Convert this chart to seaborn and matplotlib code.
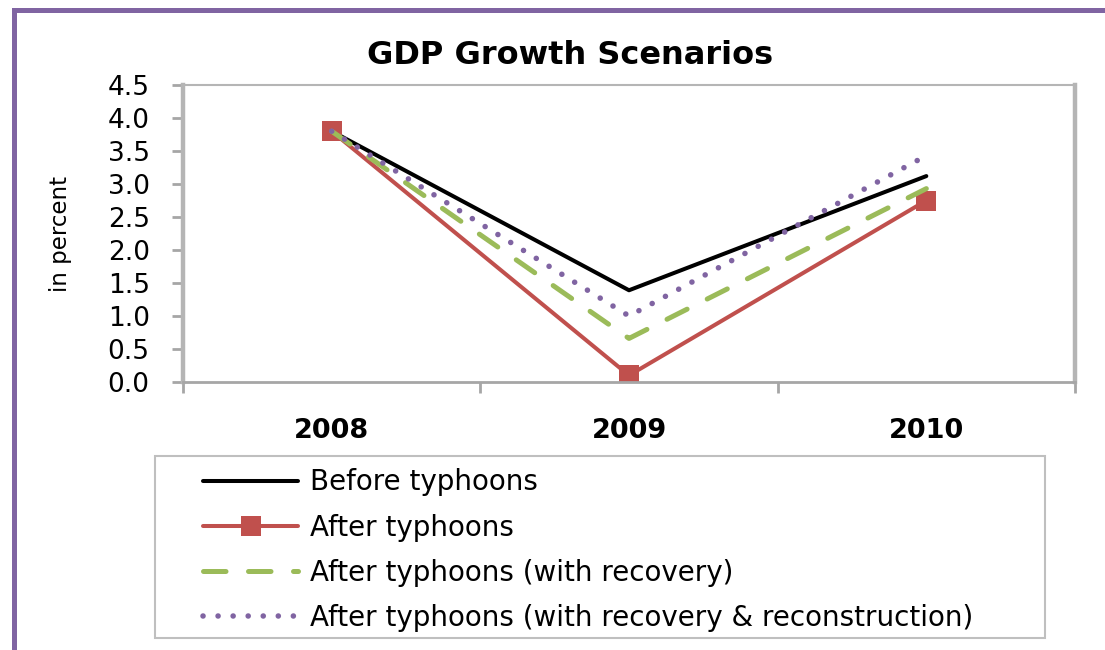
import numpy as np
import pandas as pd
import matplotlib
matplotlib.use("Agg")
import matplotlib.pyplot as plt
from matplotlib.lines import Line2D
from matplotlib.patches import Rectangle
import seaborn as sns

years = ["2008", "2009", "2010"]
before = [3.80, 1.39, 3.12]
after = [3.80, 0.10, 2.75]
recovery = [3.80, 0.66, 2.93]
reconstruction = [3.80, 1.00, 3.43]
labels = ["Before typhoons", "After typhoons", "After typhoons (with recovery)",
          "After typhoons (with recovery & reconstruction)"]
yticks = [0.0, 0.5, 1.0, 1.5, 2.0, 2.5, 3.0, 3.5, 4.0, 4.5]

sns.set_style("white")
plt.rcParams['font.family'] = ['DejaVu Sans']
plt.rcParams['text.color'] = 'black'
plt.rcParams['axes.labelcolor'] = 'black'
plt.rcParams['xtick.color'] = 'black'
plt.rcParams['ytick.color'] = 'black'

W, H = 1105, 650
fig = plt.figure(figsize=(W / 100, H / 100), dpi=100)
ax = fig.add_axes([183 / W, 1 - 382 / H, (1075 - 183) / W, (382 - 85) / H])

xpos = np.arange(len(years))

sns.lineplot(x=xpos, y=before, ax=ax, color="black", linewidth=2.9,
             label=labels[0], solid_capstyle="round")
sns.lineplot(x=xpos, y=after, ax=ax, color="#C0504D", linewidth=2.9,
             marker="s", markersize=14, markeredgewidth=0, label=labels[1])
sns.lineplot(x=xpos, y=recovery, ax=ax, color="#9BBB59", linewidth=3.6,
             label=labels[2], dashes=False)
sns.lineplot(x=xpos, y=reconstruction, ax=ax, color="#8064A2", linewidth=4.0,
             label=labels[3], dashes=False)

lines = ax.get_lines()
lines[2].set_linestyle((0, (4.5, 4.5)))
lines[2].set_dash_capstyle("round")
lines[3].set_linestyle((0, (0.01, 2.7)))
lines[3].set_dash_capstyle("round")

ax.set_xlim(-0.5, 2.5)
ax.set_ylim(0, 4.5)
ax.set_yticks(yticks)
ax.set_yticklabels([f"{v:.1f}" for v in yticks], fontsize=19)
ax.set_xticks(xpos)
ax.set_xticklabels(years, fontsize=19.5, fontweight="bold")
ax.tick_params(axis="x", which="major", length=0, pad=26)
ax.set_xticks([-0.5, 0.5, 1.5, 2.5], minor=True)
ax.tick_params(axis="x", which="minor", length=8, width=2, color="#a6a6a6",
               direction="out", bottom=True)
ax.tick_params(axis="y", length=8, width=2, color="#a6a6a6", direction="out",
               left=True, pad=16)

gray = "#b5b5b5"
for side, lw in [("left", 3.2), ("right", 3.2), ("top", 1.5), ("bottom", 2.0)]:
    ax.spines[side].set_visible(True)
    ax.spines[side].set_color(gray)
    ax.spines[side].set_linewidth(lw)
ax.spines["bottom"].set_color("#a6a6a6")

ax.set_ylabel("in percent", fontsize=16.5)
ax.yaxis.set_label_coords((72 - 183) / (1075 - 183), 0.5)
ax.set_xlabel("")
fig.text(570 / W, 1 - 56 / H, "GDP Growth Scenarios", fontsize=23, fontweight="bold",
         ha="center", va="center")

# legend
handles, lbls = ax.get_legend_handles_labels()
ax.get_legend().remove()
fig.patches.append(Rectangle((155 / W, 1 - 638 / H), 890 / W, 182 / H,
                             transform=fig.transFigure, fill=False,
                             edgecolor="#bfbfbf", linewidth=1.5))
leg = fig.legend(handles, lbls, loc="upper left",
                 bbox_to_anchor=(184 / W, 1 - 449 / H), frameon=False,
                 fontsize=20, handlelength=3.4, handletextpad=0.43,
                 labelspacing=0.62, borderpad=0.2)

# purple frame
fig.add_artist(Line2D([13.5 / W, 13.5 / W], [0, 1 - 9.5 / H], transform=fig.transFigure,
                      color="#8064A2", linewidth=3.6, solid_capstyle="projecting"))
fig.add_artist(Line2D([13.5 / W, 1], [1 - 9.5 / H, 1 - 9.5 / H], transform=fig.transFigure,
                      color="#8064A2", linewidth=3.6, solid_capstyle="projecting"))

fig.savefig("out.png", dpi=100, facecolor="white")
